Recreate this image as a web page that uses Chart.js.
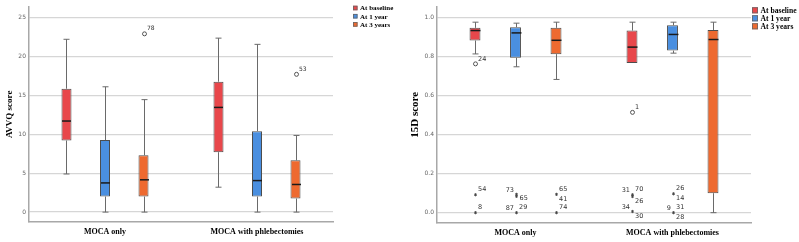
<!DOCTYPE html>
<html><head><meta charset="utf-8">
<script src="https://cdn.jsdelivr.net/npm/chart.js@4.4.1/dist/chart.umd.min.js"></script>
<style>
html,body{margin:0;padding:0;background:#fff;}
body{width:799px;height:242px;overflow:hidden;position:relative;}
canvas{position:absolute;top:0;}
#c1{left:0;} #c2{left:400px;}
</style></head><body>
<canvas id="c1" width="400" height="242"></canvas>
<canvas id="c2" width="399" height="242"></canvas>
<script>
// ---------- DATA ----------
const categories = ['MOCA only', 'MOCA with phlebectomies'];
const seriesNames = ['At baseline', 'At 1 year', 'At 3 years'];
const seriesColors = ['#e8474b', '#4a8fe0', '#ee6a30'];

// AVVQ score (left panel): per series, [MOCA only, MOCA with phlebectomies]
const avvqMin    = [[4.9, 3.2],   [0.0, 0.0],   [0.0, 0.0]];
const avvqQ1     = [[9.2, 7.7],   [2.0, 2.0],   [2.0, 1.75]];
const avvqMedian = [[11.7, 13.45],[3.75, 4.05], [4.15, 3.55]];
const avvqQ3     = [[15.85, 16.75],[9.25, 10.4],[7.3, 6.65]];
const avvqMax    = [[22.2, 22.35],[16.1, 21.55],[14.45, 9.85]];
// outliers: [value, marker, [[case label, placement]]]
const avvqOutliers = [
  [[], []],
  [[], []],
  [[[22.9, 'o', [['78', 'ur']]]], [[17.7, 'o', [['53', 'ur']]]]]
];
const avvqTicks = [0, 5, 10, 15, 20, 25];

// 15D score (right panel)
const d15Min    = [[0.815, 0.769], [0.749, 0.819], [0.684, 0.0]];
const d15Q1     = [[0.884, 0.769], [0.795, 0.832], [0.814, 0.10]];
const d15Median = [[0.935, 0.850], [0.923, 0.915], [0.885, 0.889]];
const d15Q3     = [[0.949, 0.935], [0.952, 0.962], [0.949, 0.938]];
const d15Max    = [[0.978, 0.978], [0.973, 0.978], [0.978, 0.978]];
const d15Outliers = [
  [
    [[0.764, 'o', [['24', 'ur']]], [0.092, '*', [['54', 'ur']]], [0.0, '*', [['8', 'ur']]]],
    [[0.515, 'o', [['1', 'ur']]], [0.092, '*', [['31', 'l'], ['70', 'ur']]], [0.083, '*', [['26', 'lr']]], [0.006, '*', [['34', 'l'], ['30', 'lr']]]]
  ],
  [
    [[0.094, '*', [['73', 'l']]], [0.084, '*', [['65', 'r']]], [0.0, '*', [['87', 'l'], ['29', 'ur']]]],
    [[0.097, '*', [['26', 'ur'], ['14', 'lr']]], [0.0, '*', [['9', 'l'], ['31', 'ur'], ['28', 'lr']]]]
  ],
  [
    [[0.094, '*', [['65', 'ur'], ['41', 'lr']]], [0.0, '*', [['74', 'ur']]]],
    []
  ]
];
const d15Ticks = [0.0, 0.2, 0.4, 0.6, 0.8, 1.0];

// ---------- DRAWING ----------
const boxPlugin = {
  id: 'boxwhisker',
  afterDatasetsDraw(chart, args, opts) {
    const ctx = chart.ctx, ys = chart.scales.y;
    const P = v => ys.getPixelForValue(v);
    const line = (x1, y1, x2, y2) => { ctx.beginPath(); ctx.moveTo(x1, y1); ctx.lineTo(x2, y2); ctx.stroke(); };
    chart.data.datasets.forEach((ds, di) => {
      const meta = chart.getDatasetMeta(di);
      meta.data.forEach((bar, i) => {
        const x = Math.round(bar.x) + 0.5, w = bar.width;
        const yQ1 = P(ds.data[i][0]), yQ3 = P(ds.data[i][1]);
        const yMin = P(opts.min[di][i]), yMax = P(opts.max[di][i]), yMed = P(opts.median[di][i]);
        ctx.save();
        ctx.strokeStyle = '#6a6a6a'; ctx.lineWidth = 1;
        const cw = opts.cap;
        if (Math.abs(yMax - yQ3) > 0.5) { line(x, yQ3, x, yMax); line(x - cw, yMax, x + cw, yMax); }
        if (Math.abs(yMin - yQ1) > 0.5) { line(x, yQ1, x, yMin); line(x - cw, yMin, x + cw, yMin); }
        ctx.strokeStyle = '#1a1a1a'; ctx.lineWidth = 1.5;
        line(x - w / 2 + 0.5, yMed, x + w / 2 - 0.5, yMed);
        const outs = (opts.outliers[di] && opts.outliers[di][i]) || [];
        ctx.font = opts.labelFont; ctx.fillStyle = '#333'; ctx.textBaseline = 'middle';
        outs.forEach(o => {
          const oy = P(o[0]);
          ctx.strokeStyle = '#444'; ctx.lineWidth = 0.9;
          if (o[1] === 'o') {
            ctx.beginPath(); ctx.arc(x, oy, 2, 0, Math.PI * 2); ctx.stroke();
          } else {
            const r = 1.6;
            for (let k = 0; k < 3; k++) {
              const a = Math.PI / 2 + k * Math.PI / 3;
              line(x - r * Math.cos(a), oy - r * Math.sin(a), x + r * Math.cos(a), oy + r * Math.sin(a));
            }
          }
          o[2].forEach(lb => {
            const t = lb[0], pos = lb[1];
            if (pos === 'ur') { ctx.textAlign = 'left'; ctx.fillText(t, x + 2.5, oy - 5); }
            else if (pos === 'lr') { ctx.textAlign = 'left'; ctx.fillText(t, x + 2.5, oy + 5); }
            else if (pos === 'r') { ctx.textAlign = 'left'; ctx.fillText(t, x + 3, oy + 1.5); }
            else if (pos === 'l') { ctx.textAlign = 'right'; ctx.fillText(t, x - 2.5, oy - 4); }
          });
        });
        ctx.restore();
      });
    });
  }
};

// legend drawn to the right of the plot area, from the datasets
const legendPlugin = {
  id: 'sideLegend',
  afterDraw(chart, args, o) {
    const ctx = chart.ctx;
    ctx.save();
    ctx.font = 'bold ' + o.font + 'px "Liberation Serif"';
    ctx.textBaseline = 'middle'; ctx.textAlign = 'left';
    chart.data.datasets.forEach((ds, i) => {
      const cy = o.top + i * o.step;
      const x = chart.chartArea.right + o.gap;
      ctx.fillStyle = ds.backgroundColor;
      ctx.fillRect(x, cy - o.box / 2, o.box, o.box);
      ctx.strokeStyle = '#666'; ctx.lineWidth = 0.8;
      ctx.strokeRect(x + 0.4, cy - o.box / 2 + 0.4, o.box - 0.8, o.box - 0.8);
      ctx.fillStyle = '#000';
      ctx.fillText(ds.label, x + o.box + o.textGap, cy + 0.5);
    });
    ctx.restore();
  }
};

function makeChart(id, cfg) {
  const datasets = seriesNames.map((name, si) => ({
    label: name,
    data: categories.map((c, ci) => [cfg.q1[si][ci], cfg.q3[si][ci]]),
    backgroundColor: seriesColors[si],
    borderColor: '#4d4d4d',
    borderWidth: 1,
    borderSkipped: false,
    categoryPercentage: cfg.catPct,
    barPercentage: cfg.barPct
  }));
  return new Chart(document.getElementById(id), {
    type: 'bar',
    data: { labels: categories, datasets },
    plugins: [boxPlugin, legendPlugin],
    options: {
      responsive: false, animation: false, devicePixelRatio: 1,
      layout: { padding: cfg.padding },
      plugins: {
        tooltip: { enabled: false },
        legend: { display: false },
        boxwhisker: { min: cfg.min, max: cfg.max, median: cfg.median, outliers: cfg.outliers, cap: cfg.cap, labelFont: cfg.labelFont },
        sideLegend: cfg.legend
      },
      scales: {
        x: {
          grid: { display: false, drawTicks: false },
          border: { color: '#a8a8a8', width: 1.5 },
          ticks: { color: '#000', padding: 5, font: { family: 'Liberation Serif', weight: 'bold', size: 8 } },
          afterFit(s) { s.height = cfg.xHeight; }
        },
        y: {
          min: cfg.yMin, max: cfg.yMax,
          afterBuildTicks(s) { s.ticks = cfg.ticks.map(v => ({ value: v })); },
          ticks: { color: '#666', padding: 3, font: { family: 'DejaVu Sans', size: 6 },
                   callback: cfg.tickFmt },
          grid: { color: '#d6d6d6', lineWidth: 1.3, drawTicks: false },
          border: { color: '#a8a8a8', width: 1.5 },
          title: { display: true, text: cfg.title, color: '#000', padding: { top: cfg.titlePad, bottom: 0 },
                   font: { family: 'Liberation Serif', weight: 'bold', size: cfg.titleSize } },
          afterFit(s) { s.width = cfg.yWidth; }
        }
      }
    }
  });
}

makeChart('c1', {
  q1: avvqQ1, q3: avvqQ3, min: avvqMin, max: avvqMax, median: avvqMedian, outliers: avvqOutliers,
  ticks: avvqTicks, yMin: -1.27, yMax: 26.4, tickFmt: v => String(v),
  title: 'AVVQ score', titleSize: 9, titlePad: 4.5, yWidth: 29, xHeight: 20,
  padding: { top: 4, right: 67, left: 0, bottom: 0 },
  catPct: 0.76, barPct: 0.26, cap: 3, labelFont: '6px "DejaVu Sans"',
  legend: { gap: 20, top: 8, step: 8.2, box: 4.5, textGap: 2.5, font: 7 }
});

makeChart('c2', {
  q1: d15Q1, q3: d15Q3, min: d15Min, max: d15Max, median: d15Median, outliers: d15Outliers,
  ticks: d15Ticks, yMin: -0.053, yMax: 1.058, tickFmt: v => Number(v).toFixed(1),
  title: '15D score', titleSize: 11, titlePad: 9, yWidth: 37, xHeight: 19,
  padding: { top: 6, right: 48, left: 0, bottom: 0 },
  catPct: 0.774, barPct: 0.27, cap: 3, labelFont: '6.5px "DejaVu Sans"',
  legend: { gap: 1, top: 10.3, step: 8, box: 6, textGap: 2.5, font: 7.6 }
});
</script>
</body></html>
